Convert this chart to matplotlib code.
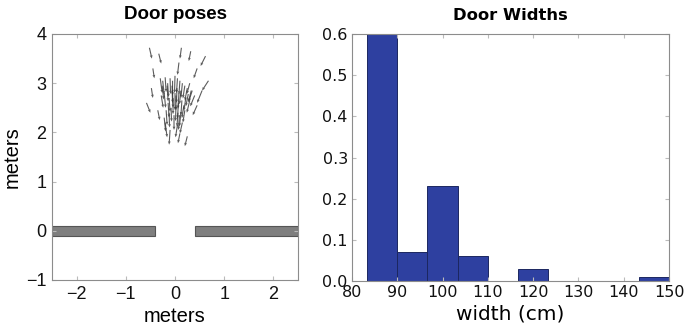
import numpy as np
import matplotlib
matplotlib.use("Agg")
import matplotlib.pyplot as plt
from matplotlib.patches import Rectangle

# Estimated door poses: arrow tail (x, y) and direction (dx, dy), meters
pose_x = [-0.52, -0.33, 0.13, 0.08, 0.32, 0.62, 0.45, 0.68, 0.55, -0.45,
          -0.58, -0.48, -0.30, -0.25, -0.20, -0.15, -0.10, -0.05, 0.00, 0.05,
          0.10, 0.15, 0.20, 0.25, 0.30, 0.35, -0.28, -0.22, -0.12, -0.05,
          0.02, 0.08, 0.14, 0.22, 0.30, 0.40, -0.18, -0.08, 0.02, 0.12,
          0.20, -0.20, -0.10, 0.05, 0.15, 0.25, -0.35, 0.45, -0.02, 0.10,
          -0.16, -0.06, 0.04, 0.12, 0.27, -0.26, -0.14, 0.07, 0.18, -0.04,
          -0.22, 0.00, 0.09, 0.33, -0.12, 0.06]
pose_y = [3.72, 3.60, 3.72, 3.42, 3.65, 3.55, 3.30, 3.05, 2.85, 3.30,
          2.60, 2.90, 3.10, 3.05, 3.12, 3.00, 3.10, 3.05, 3.15, 3.10,
          3.05, 3.00, 2.95, 2.90, 3.00, 2.85, 2.75, 2.80, 2.70, 2.85,
          2.75, 2.80, 2.65, 2.70, 2.65, 2.75, 2.45, 2.50, 2.55, 2.40,
          2.45, 2.20, 2.05, 2.15, 2.20, 1.92, 2.45, 2.55, 2.35, 1.98,
          2.95, 2.95, 2.90, 2.85, 2.78, 2.95, 2.60, 2.60, 2.55, 2.70,
          2.30, 2.80, 2.35, 2.85, 2.40, 2.40]
pose_dx = [0.05, 0.05, -0.03, -0.03, -0.04, -0.10, -0.07, -0.13, -0.10, 0.03,
           0.08, 0.03, 0.04, 0.03, 0.02, 0.02, 0.01, 0.00, -0.01, -0.02,
           -0.02, -0.03, -0.04, -0.05, -0.06, -0.07, 0.04, 0.03, 0.02, 0.01,
           0.00, -0.02, -0.02, -0.04, -0.06, -0.09, 0.02, 0.01, -0.01, -0.03,
           -0.04, 0.04, -0.02, -0.04, -0.05, -0.05, 0.04, -0.09, 0.00, -0.04,
           0.02, 0.01, -0.01, -0.03, -0.05, 0.03, 0.02, -0.02, -0.04, 0.00,
           0.03, 0.00, -0.02, -0.06, 0.01, -0.02]
pose_dy = [-0.22, -0.20, -0.22, -0.25, -0.20, -0.20, -0.20, -0.20, -0.25, -0.20,
           -0.20, -0.20, -0.30, -0.28, -0.30, -0.28, -0.32, -0.30, -0.35, -0.30,
           -0.28, -0.30, -0.26, -0.25, -0.22, -0.22, -0.25, -0.30, -0.28, -0.35,
           -0.30, -0.32, -0.30, -0.26, -0.25, -0.22, -0.30, -0.28, -0.32, -0.28,
           -0.25, -0.30, -0.30, -0.25, -0.22, -0.20, -0.20, -0.20, -0.30, -0.20,
           -0.32, -0.35, -0.30, -0.28, -0.25, -0.28, -0.30, -0.32, -0.26, -0.33,
           -0.28, -0.35, -0.30, -0.24, -0.30, -0.28]

# Wall segments on either side of the doorway: (x_start, x_end), thickness
wall_x = [(-2.5, -0.4), (0.4, 2.5)]
wall_half_thickness = 0.1

# Door width histogram
width_bin_edges = [83.33, 90.0, 96.67, 103.33, 110.0, 116.67, 123.33,
                   130.0, 136.67, 143.33, 150.0]
width_freq = [0.60, 0.07, 0.23, 0.06, 0.0, 0.03, 0.0, 0.0, 0.0, 0.01]

fig = plt.figure(figsize=(6.86, 3.34), dpi=100)

spine_gray = "#8c8c8c"
arial = "Liberation Sans"

# ---- Door poses ----
ax1 = fig.add_axes([52 / 686, 54 / 334, 246 / 686, 246 / 334])
for x0, x1 in wall_x:
    ax1.add_patch(Rectangle((x0, -wall_half_thickness), x1 - x0,
                            2 * wall_half_thickness,
                            facecolor="#7f7f7f", edgecolor="#555555", lw=0.8))
ax1.quiver(pose_x, pose_y, pose_dx, pose_dy, angles="xy", scale_units="xy",
           scale=1, color="#333333", width=0.0045, headwidth=2.5,
           headlength=3, headaxislength=2.8, alpha=0.8)
ax1.set_xlim(-2.5, 2.5)
ax1.set_ylim(-1, 4)
ax1.set_xticks([-2, -1, 0, 1, 2])
ax1.set_yticks([-1, 0, 1, 2, 3, 4])
ax1.set_xticklabels(["\u22122", "\u22121", "0", "1", "2"])
ax1.set_yticklabels(["\u22121", "0", "1", "2", "3", "4"])
for lbl in ax1.get_xticklabels() + ax1.get_yticklabels():
    lbl.set_fontfamily(arial)
    lbl.set_fontsize(13)
ax1.set_xlabel("meters", fontfamily=arial, fontsize=14.5, labelpad=3)
ax1.set_ylabel("meters", fontfamily=arial, fontsize=14.5, labelpad=3)
ax1.set_title("Door poses", fontfamily=arial, fontweight="bold",
              fontsize=13.5, pad=11)
ax1.tick_params(direction="in", top=True, right=True, length=3,
                color="#bbbbbb", pad=4, labelcolor="#111111")
for s in ax1.spines.values():
    s.set_color(spine_gray)

# ---- Door Widths ----
ax2 = fig.add_axes([352 / 686, 53 / 334, 317 / 686, 247 / 334])
edges = np.array(width_bin_edges)
ax2.bar(edges[:-1], width_freq, width=np.diff(edges), align="edge",
        color="#2e40a0", edgecolor="#1c2760", linewidth=0.7)
ax2.set_xlim(80, 150)
ax2.set_ylim(0, 0.6)
ax2.set_xticks(range(80, 151, 10))
ax2.set_yticks([0.0, 0.1, 0.2, 0.3, 0.4, 0.5, 0.6])
ax2.set_yticklabels(["0.0", "0.1", "0.2", "0.3", "0.4", "0.5", "0.6"])
ax2.tick_params(direction="in", top=True, right=True, length=3,
                color="#bbbbbb", labelsize=11.5, pad=3, labelcolor="#111111")
ax2.set_xlabel("width (cm)", fontsize=14.5, labelpad=3)
ax2.set_title("Door Widths", fontweight="bold", fontsize=11.8, pad=10)
for s in ax2.spines.values():
    s.set_color(spine_gray)

fig.savefig("out.png", dpi=100)
